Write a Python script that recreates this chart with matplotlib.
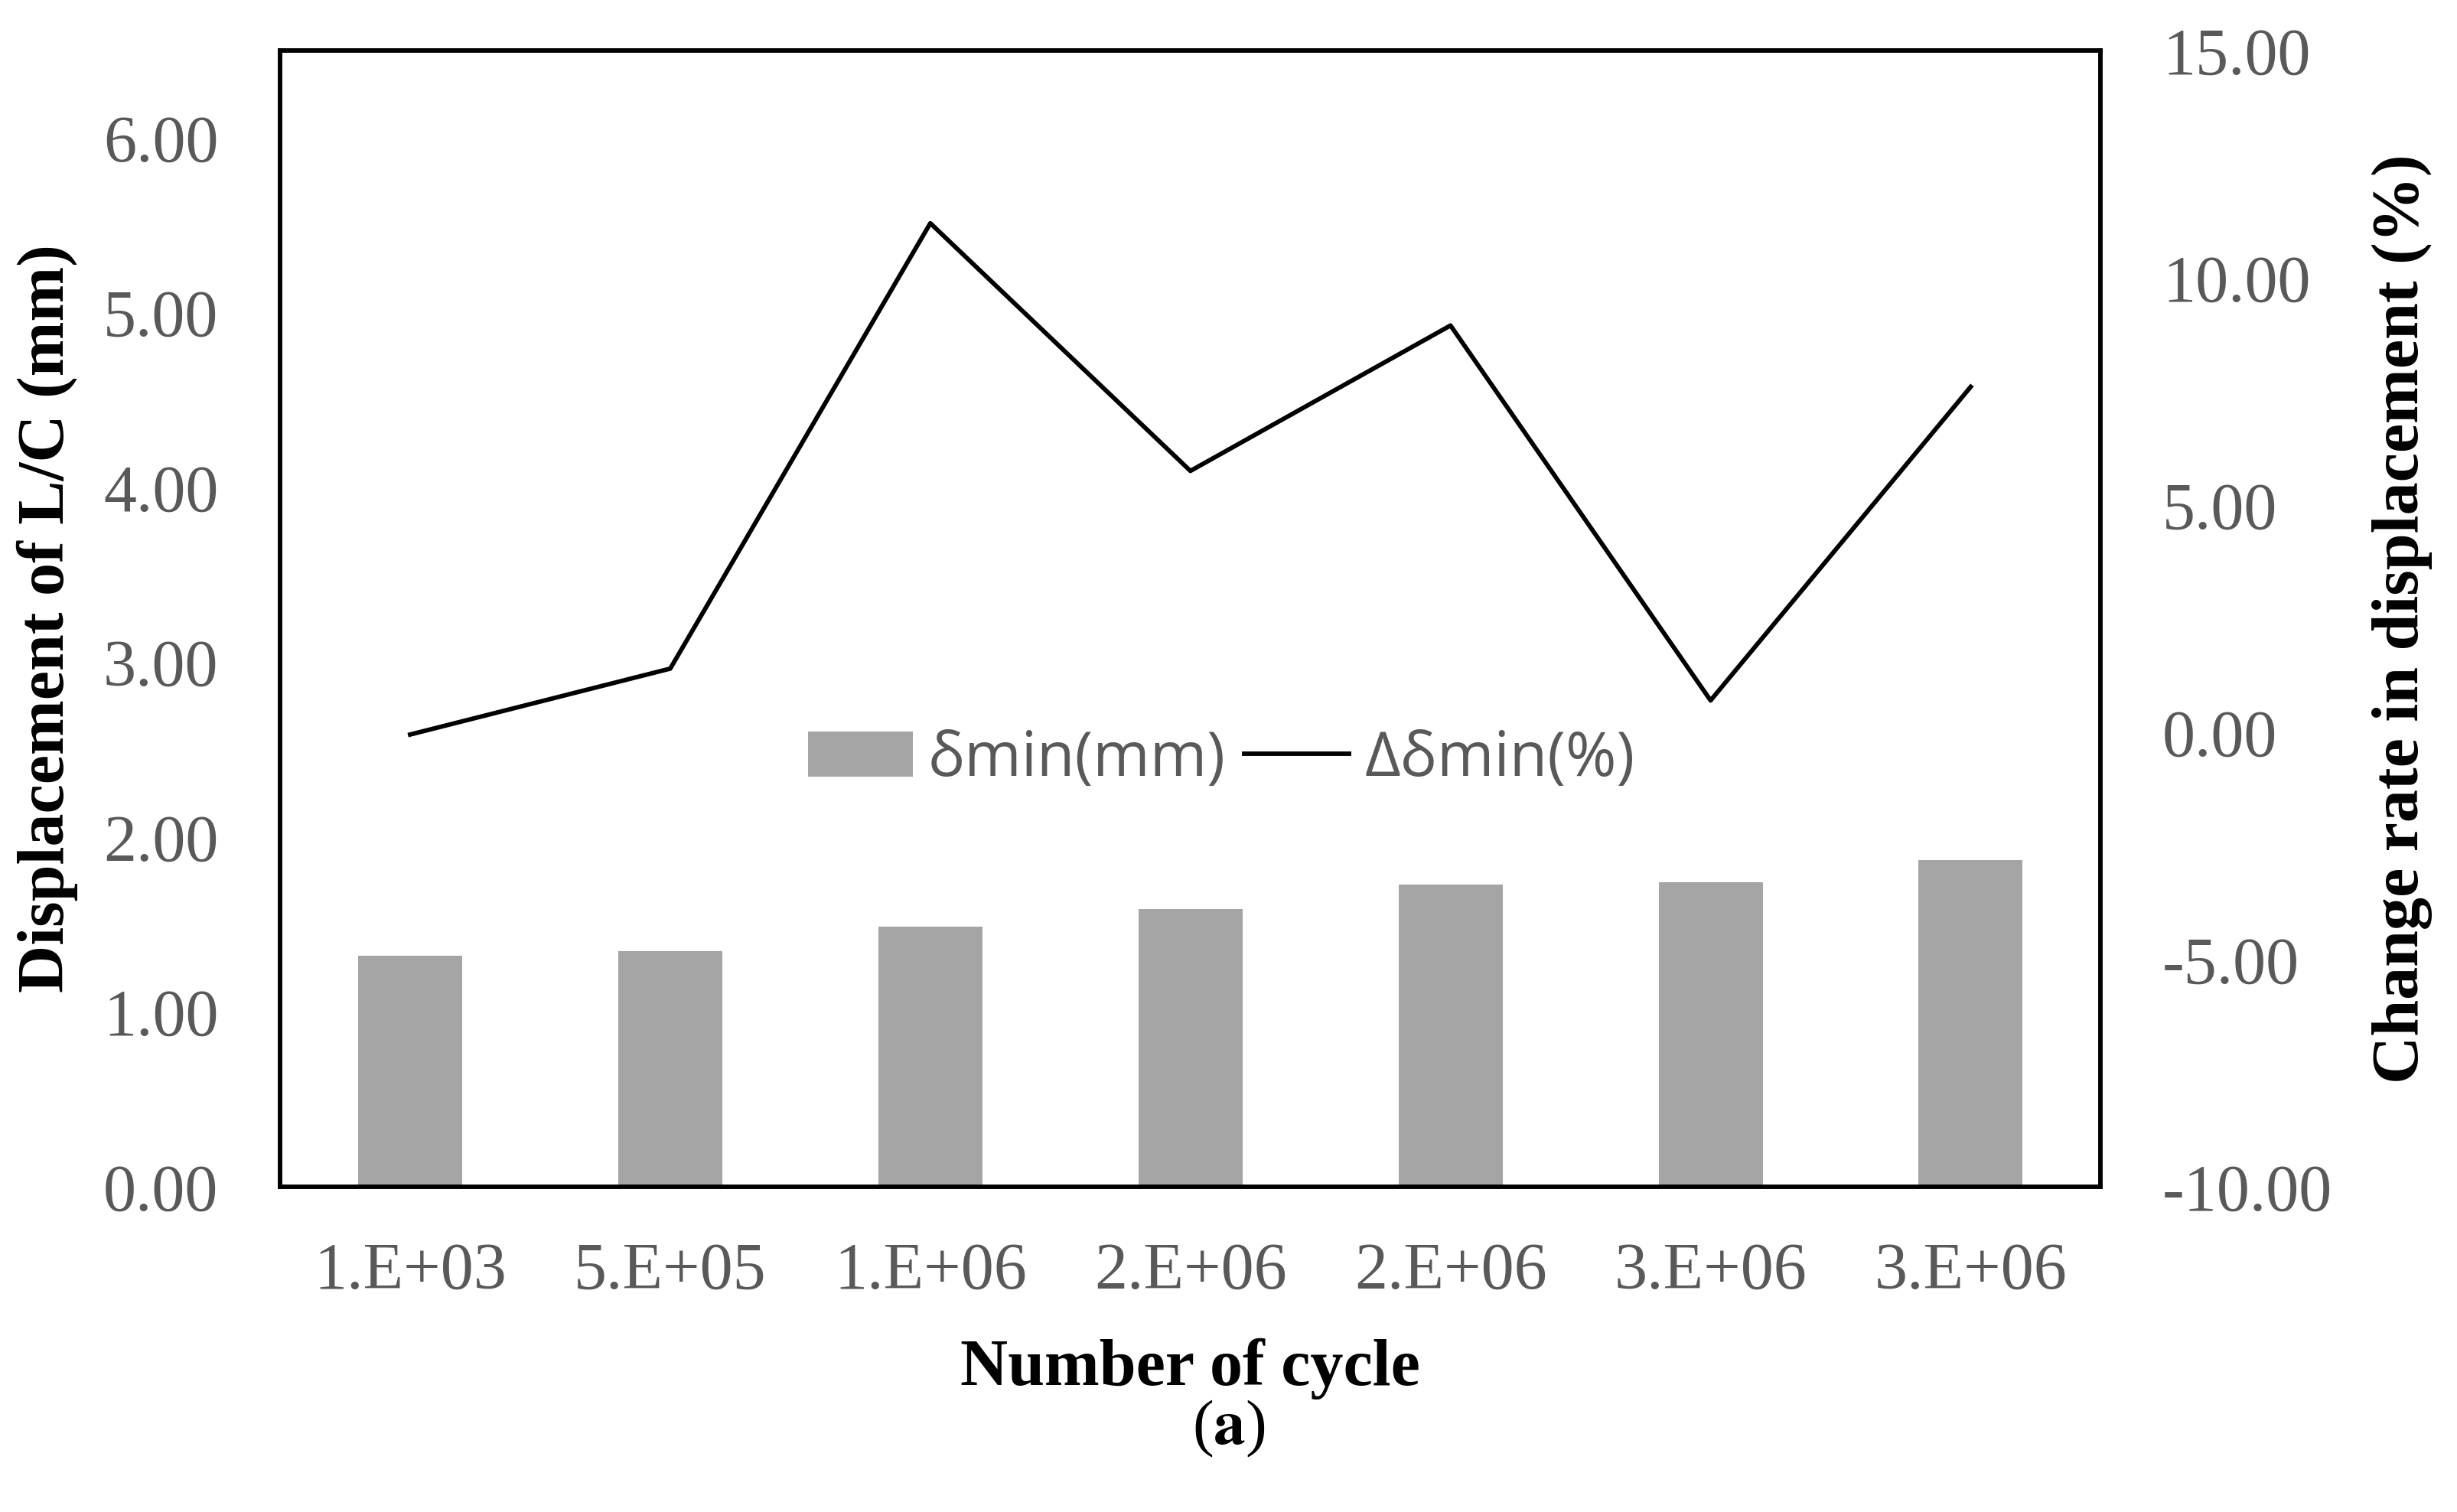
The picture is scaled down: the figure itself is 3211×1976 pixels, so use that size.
import matplotlib
matplotlib.use("Agg")
import matplotlib.pyplot as plt
import numpy as np

# data
cycles = ["1.E+03", "5.E+05", "1.E+06", "2.E+06", "2.E+06", "3.E+06", "3.E+06"]
disp_min = [1.32, 1.35, 1.49, 1.59, 1.73, 1.74, 1.87]          # mm, bars
change_rate = [-0.05, 1.40, 11.20, 5.75, 8.95, 0.70, 7.60]     # %, line

left_ticks = [0, 1, 2, 3, 4, 5, 6]
right_ticks = [-10, -5, 0, 5, 10, 15]

plt.rcParams['mathtext.fontset'] = 'stix'
serif = 'Liberation Serif'
tick_color = '#595959'

fig = plt.figure(figsize=(32.11, 19.76), dpi=100)
ax = fig.add_axes([0.114, 0.2151, 0.741, 0.7515])
ax2 = ax.twinx()

x = np.arange(len(cycles))
bars = ax.bar(x, disp_min, width=0.4, color='#A5A5A5', label='δmin(mm)', zorder=2)
line, = ax2.plot(x, change_rate, color='black', linewidth=4.2, label='Δδmin(%)')

ax.set_xlim(-0.5, len(cycles) - 0.5)
ax.set_ylim(0, 6.5)
ax2.set_ylim(-10, 15)

ax.set_xticks(x)
ax.set_xticklabels(cycles)
ax.set_yticks(left_ticks)
ax.set_yticklabels([f"{v:.2f}" for v in left_ticks])
ax2.set_yticks(right_ticks)
ax2.set_yticklabels([f"{v:.2f}" for v in right_ticks])

ax.tick_params(axis='x', length=0, pad=52, labelsize=62, labelcolor=tick_color)
ax.tick_params(axis='y', length=0, pad=58, labelsize=62, labelcolor=tick_color)
ax2.tick_params(axis='y', length=0, pad=58, labelsize=62, labelcolor=tick_color)
for lab in ax.get_xticklabels() + ax.get_yticklabels() + ax2.get_yticklabels():
    lab.set_fontfamily(serif)

for a in (ax, ax2):
    for s in a.spines.values():
        s.set_linewidth(4.0)
        s.set_color('black')

ax.set_ylabel('Displacement of L/C (mm)', fontsize=62, fontweight='bold', family=serif)
ax2.set_ylabel('Change rate in displacement (%)', fontsize=62, fontweight='bold', family=serif)
ax.yaxis.set_label_coords(-0.111, 0.5)
ax2.yaxis.set_label_coords(1.149, 0.5)
ax.set_xlabel('Number of cycle', fontsize=62, fontweight='bold', family=serif)
ax.xaxis.set_label_coords(0.5, -0.133)

fig.text(0.5, 0.055, r'($\mathbf{a}$)', ha='center', va='center',
         fontsize=60, family=serif)

leg = ax.legend([bars, line], ['δmin(mm)', 'Δδmin(%)'], loc='center',
                bbox_to_anchor=(0.517, 0.376), ncol=2, frameon=False,
                prop={'family': 'Open Sans', 'size': 58},
                handlelength=1.7, handleheight=0.75, handletextpad=0.25,
                columnspacing=0.3, labelcolor=tick_color)

fig.savefig('out.png', dpi=100, facecolor='white')
